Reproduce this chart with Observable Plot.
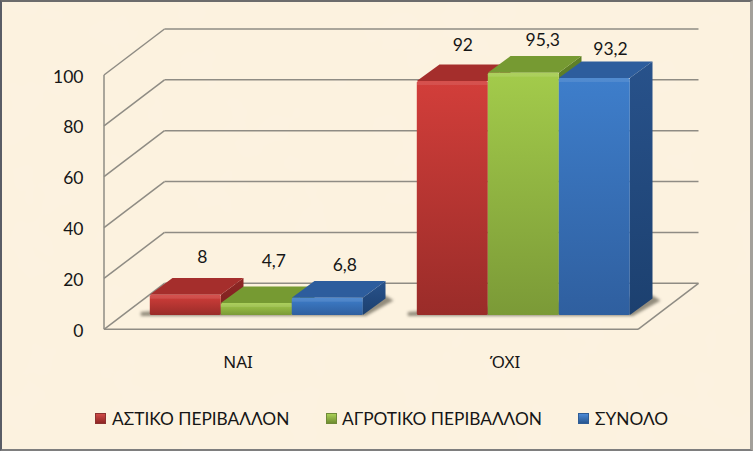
<!DOCTYPE html>
<html><head><meta charset="utf-8">
<script src="https://cdn.jsdelivr.net/npm/d3@7"></script>
<script src="https://cdn.jsdelivr.net/npm/@observablehq/plot@0.6"></script>
<style>
html,body{margin:0;padding:0;width:753px;height:451px;overflow:hidden}
#page{position:relative;width:753px;height:451px;background-color:#fcf2df;
 background-image:url("data:image/svg+xml;utf8,<svg xmlns='http://www.w3.org/2000/svg' width='753' height='451'><filter id='n' x='0' y='0' width='100%25' height='100%25'><feTurbulence type='fractalNoise' baseFrequency='0.018' numOctaves='3' seed='7'/><feColorMatrix values='0 0 0 0 0.97  0 0 0 0 0.90  0 0 0 0 0.76  0.55 0 0 0 -0.17'/></filter><rect width='753' height='451' filter='url(%23n)'/></svg>");
 font-family:Lato,"Open Sans","Noto Sans",sans-serif;color:#161616}
#frame{position:absolute;inset:0;box-sizing:border-box;pointer-events:none;
 border-style:solid;border-width:2px 3px 2px 2px;border-color:#6c6c6c #a3a09a #7e7e7e #5a5d66}
#chart{position:absolute;left:0;top:0}
.lg{position:absolute;top:408px;font-size:17.3px;line-height:22px;white-space:nowrap}
.sw{position:absolute;top:413px;width:11px;height:11px;box-sizing:border-box}
</style></head><body>
<div id="page"><div id="chart"></div>
<span class="sw" style="left:95px;background:linear-gradient(#cf4a46,#8f2624);border:1px solid #8c3230"></span>
<span class="lg" style="left:112px">ΑΣΤΙΚΟ ΠΕΡΙΒΑΛΛΟΝ</span>
<span class="sw" style="left:326px;background:linear-gradient(#a9cf55,#6f8d30);border:1px solid #6f8a38"></span>
<span class="lg" style="left:342px">ΑΓΡΟΤΙΚΟ ΠΕΡΙΒΑΛΛΟΝ</span>
<span class="sw" style="left:578px;background:linear-gradient(#4d8ad6,#285791);border:1px solid #2f5d96"></span>
<span class="lg" style="left:595px">ΣΥΝΟΛΟ</span>
<div id="frame"></div></div>
<script>
const categories = ["ΝΑΙ", "\u038CΧΙ"];
const seriesNames = ["ΑΣΤΙΚΟ ΠΕΡΙΒΑΛΛΟΝ", "ΑΓΡΟΤΙΚΟ ΠΕΡΙΒΑΛΛΟΝ", "ΣΥΝΟΛΟ"];
const astiko = [8, 92];
const agrotiko = [4.7, 95.3];
const synolo = [6.8, 93.2];
const yTicks = [0, 20, 40, 60, 80, 100];

const rows = categories.flatMap((c, i) => [astiko, agrotiko, synolo].map((vals, s) => ({category: c, series: seriesNames[s], value: vals[i], s, i})));

// Oblique projection used for the 3-D look (pixels)
const wall = {dx: 60.5, dy: -46};
const plane = {dx: 18.8, dy: -14.3};
const depth = {dx: 22.7, dy: -16.6};
const gridColor = "#8f8c84";
const topFaces = ["#a52e2c", "#769a32", "#2d5d9d"];
const ramps = {
  front: [["#d23e3a", "#9a2c29"], ["#a3cb4b", "#7b9a37"], ["#3e7ecb", "#2f5f9f"]],
  side: [["#8f2725", "#7a201e"], ["#5f8027", "#4f6c1f"], ["#28528b", "#1c406f"]]
};
const labelNudges = [[16.5, -38], [17, -42], [17, -33], [10, -36], [19, -33], [15.7, -29]];

const defs = () => {
  const d = d3.create("svg:defs");
  for (const kind of ["front", "side"]) ramps[kind].forEach((r, k) => {
    const g = d.append("linearGradient").attr("id", `${kind}${k}`).attr("x1", 0).attr("y1", 0).attr("x2", 0).attr("y2", 1);
    g.append("stop").attr("offset", "0%").attr("stop-color", r[0]);
    g.append("stop").attr("offset", "100%").attr("stop-color", r[1]);
  });
  d.append("filter").attr("id", "soft").attr("x", "-20%").attr("y", "-50%").attr("width", "140%").attr("height", "200%")
    .append("feGaussianBlur").attr("stdDeviation", 1.8);
  return d.node();
};

// The walls and floor are drawn once, in the first facet, from the y scale and the frame.
function wallLines(index, {y}, values, {width, marginLeft, marginRight}) {
  const g = d3.create("svg:g").attr("fill", "none").attr("stroke", gridColor).attr("stroke-width", 1.5);
  const x0 = marginLeft, x1 = x0 + categories.length * (width - marginLeft - marginRight);
  for (const t of yTicks) {
    g.append("line").attr("x1", x0).attr("y1", y(t)).attr("x2", x0 + wall.dx).attr("y2", y(t) + wall.dy);
    g.append("line").attr("x1", x0 + wall.dx).attr("y1", y(t) + wall.dy).attr("x2", x1 + wall.dx).attr("y2", y(t) + wall.dy);
  }
  g.append("line").attr("x1", x0).attr("y1", y(0)).attr("x2", x0).attr("y2", y(100));
  g.append("line").attr("x1", x0).attr("y1", y(0)).attr("x2", x1).attr("y2", y(0));
  g.append("line").attr("x1", x1).attr("y1", y(0)).attr("x2", x1 + wall.dx).attr("y2", y(0) + wall.dy);
  return g.node();
}

function addFaces(index, scales, values, dimensions, context, next) {
  const g = next(index, scales, values, dimensions, context);
  const rects = [...g.querySelectorAll("rect")];
  const NS = "http://www.w3.org/2000/svg";
  const poly = (pts, fill, before) => {
    const p = document.createElementNS(NS, "polygon");
    p.setAttribute("points", pts.map(q => q.join(",")).join(" "));
    p.setAttribute("fill", fill);
    rects[before].parentNode.insertBefore(p, rects[before]);
    return p;
  };
  const box = r => ({x: +r.getAttribute("x"), y: +r.getAttribute("y"), w: +r.getAttribute("width"), h: +r.getAttribute("height")});
  const first = box(rects[0]), last = box(rects[rects.length - 1]);
  const base = first.y + first.h, right = last.x + last.w;
  const sh = poly([[first.x - 9, base + 1], [right + 3, base + 1], [right + depth.dx + 8, base + depth.dy + 2], [right + depth.dx, base + depth.dy - 3], [first.x - 9, base - 3]], "#6f6a5c", 0);
  sh.setAttribute("filter", "url(#soft)");
  sh.setAttribute("opacity", 0.75);
  rects.forEach((r, j) => {
    const {x, y, w, h} = box(r);
    const s = rows[index[j]].s;
    poly([[x + w, y], [x + w + depth.dx, y + depth.dy], [x + w + depth.dx, y + h + depth.dy], [x + w, y + h]], `url(#side${s})`, j);
    poly([[x, y], [x + depth.dx, y + depth.dy], [x + w + depth.dx, y + depth.dy], [x + w, y]], topFaces[s], j);
    r.setAttribute("rx", 1.5);
    const hi = document.createElementNS(NS, "rect");
    hi.setAttribute("x", x); hi.setAttribute("y", y); hi.setAttribute("width", w);
    hi.setAttribute("height", Math.min(4, h / 3)); hi.setAttribute("fill", "#fff"); hi.setAttribute("fill-opacity", 0.1);
    r.after(hi);
  });
  return g;
}

const chart = Plot.plot({
  width: 753,
  height: 395,
  marginLeft: 103,
  marginRight: 115,
  marginTop: 75,
  marginBottom: 65.7,
  style: {background: "transparent", fontFamily: 'Lato,"Open Sans","Noto Sans",sans-serif', fontSize: "17.5px", color: "#161616"},
  fx: {domain: categories, padding: 0, label: null},
  x: {domain: seriesNames, padding: 0, insetLeft: 27, insetRight: 27, axis: null},
  y: {domain: [0, 100], label: null},
  color: {type: "ordinal", domain: seriesNames, range: [0, 1, 2].map(k => `url(#front${k})`)},
  marks: [
    defs,
    Plot.ruleY(yTicks, {fx: () => categories[0], render: wallLines}),
    Plot.barY(rows, {fx: "category", x: "series", y: "value", fill: "series", dx: plane.dx, dy: plane.dy, render: addFaces}),
    Plot.axisY({ticks: yTicks, anchor: "left", tickSize: 0, tickPadding: 21, label: null, tickFormat: d => String(d), dy: 1.5}),
    Plot.axisFx({anchor: "bottom", tickSize: 0, tickPadding: 26, label: null, fontFamily: '"Noto Sans",sans-serif', fontSize: 17}),
    ...rows.map((r, k) => Plot.text([r], {
      fx: "category", x: "series", y: "value", text: d => String(d.value).replace(".", ","),
      dx: plane.dx + labelNudges[k][0], dy: plane.dy + labelNudges[k][1], fill: "#161616"
    }))
  ]
});
document.getElementById("chart").append(chart);
</script>
</body></html>
